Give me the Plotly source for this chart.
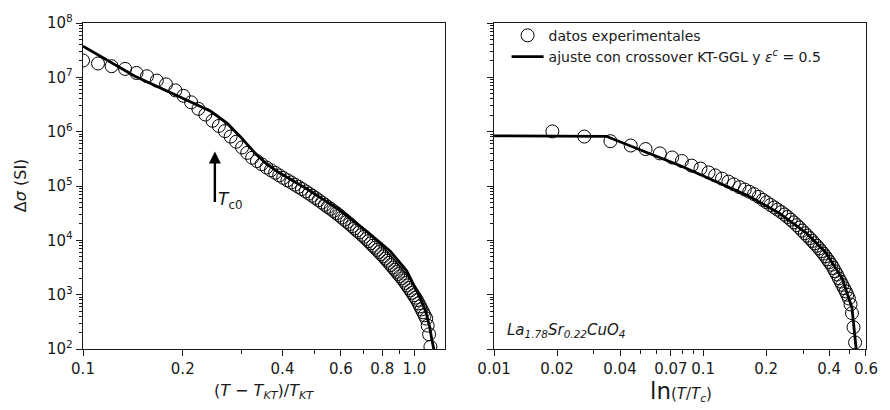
import numpy as np
import plotly.graph_objects as go

# ---------------- data ----------------
# Left panel: x = (T - T_KT)/T_KT ; y = log10(Δσ / SI)
left_x = [0.100, 0.111, 0.122, 0.134, 0.145, 0.156, 0.167, 0.178, 0.190, 0.201,
          0.212, 0.223, 0.234, 0.246, 0.257, 0.268, 0.279, 0.290, 0.302, 0.313,
          0.324, 0.335, 0.346, 0.358, 0.369, 0.380, 0.391, 0.402, 0.414, 0.425,
          0.436, 0.447, 0.458, 0.470, 0.481, 0.492, 0.503, 0.514, 0.526, 0.537,
          0.548, 0.559, 0.570, 0.582, 0.593, 0.604, 0.615, 0.626, 0.638, 0.649,
          0.660, 0.671, 0.682, 0.694, 0.705, 0.716, 0.727, 0.738, 0.750, 0.761,
          0.772, 0.783, 0.794, 0.806, 0.817, 0.828, 0.839, 0.850, 0.862, 0.873,
          0.884, 0.895, 0.906, 0.918, 0.929, 0.940, 0.951, 0.962, 0.974, 0.985,
          0.996, 1.007, 1.018, 1.030, 1.041, 1.052, 1.063, 1.074, 1.086, 1.097,
          1.108, 1.118]
left_log_dsigma = [7.31, 7.255, 7.205, 7.155, 7.08, 7.02, 6.94, 6.87, 6.76, 6.66,
                   6.54, 6.42, 6.315, 6.20, 6.105, 6.01, 5.91, 5.815, 5.71, 5.61,
                   5.52, 5.46, 5.40, 5.34, 5.29, 5.245, 5.195, 5.15, 5.105, 5.065,
                   5.025, 4.985, 4.945, 4.90, 4.86, 4.82, 4.78, 4.74, 4.695, 4.655,
                   4.615, 4.58, 4.54, 4.50, 4.46, 4.42, 4.38, 4.34, 4.30, 4.26,
                   4.22, 4.18, 4.145, 4.10, 4.065, 4.025, 3.985, 3.945, 3.90, 3.865,
                   3.825, 3.785, 3.745, 3.705, 3.665, 3.625, 3.585, 3.545, 3.50, 3.46,
                   3.42, 3.38, 3.34, 3.30, 3.26, 3.215, 3.17, 3.125, 3.08, 3.035,
                   2.99, 2.945, 2.90, 2.84, 2.785, 2.73, 2.675, 2.62, 2.56, 2.43,
                   2.27, 2.04]

left_fit_x = [0.100, 0.143, 0.243, 0.272, 0.301, 0.317, 0.333, 0.358, 0.388, 0.477,
              0.586, 0.720, 0.846, 0.948, 1.039, 1.081, 1.113, 1.130, 1.144, 1.150]
left_fit_log = [7.575, 7.023, 6.375, 6.157, 5.883, 5.725, 5.582, 5.405, 5.258, 4.934,
                4.583, 4.160, 3.800, 3.440, 2.954, 2.70, 2.40, 2.16, 2.01, 1.80]

# Right panel: x = ln(T/Tc) ; y = log10(Δσ / SI)
right_x = [0.019, 0.027, 0.036, 0.045, 0.053, 0.062, 0.071, 0.079, 0.088, 0.097,
           0.106, 0.114, 0.123, 0.132, 0.140, 0.149, 0.158, 0.166, 0.175, 0.184,
           0.193, 0.201, 0.210, 0.219, 0.227, 0.236, 0.245, 0.253, 0.262, 0.271,
           0.280, 0.288, 0.297, 0.306, 0.314, 0.323, 0.332, 0.340, 0.349, 0.358,
           0.367, 0.375, 0.384, 0.393, 0.401, 0.410, 0.419, 0.427, 0.436, 0.445,
           0.454, 0.462, 0.471, 0.480, 0.488, 0.497, 0.506, 0.514, 0.523, 0.532]
right_log_dsigma = [6.005, 5.91, 5.825, 5.745, 5.68, 5.60, 5.525, 5.46, 5.375, 5.32,
                    5.25, 5.195, 5.135, 5.08, 5.03, 4.98, 4.935, 4.895, 4.85, 4.80,
                    4.745, 4.70, 4.65, 4.605, 4.565, 4.52, 4.475, 4.43, 4.38, 4.33,
                    4.28, 4.235, 4.18, 4.13, 4.085, 4.04, 3.99, 3.945, 3.90, 3.85,
                    3.80, 3.755, 3.705, 3.65, 3.60, 3.55, 3.49, 3.43, 3.37, 3.30,
                    3.24, 3.18, 3.12, 3.06, 3.00, 2.93, 2.82, 2.66, 2.40, 2.12]

right_fit_x = [0.010, 0.0344, 0.0541, 0.0778, 0.112, 0.161, 0.231, 0.309, 0.384,
               0.461, 0.514, 0.5335, 0.538, 0.541]
right_fit_log = [5.924, 5.915, 5.613, 5.372, 5.102, 4.832, 4.502, 4.142, 3.782,
                 3.302, 2.762, 2.22, 2.01, 1.80]

# tick labels
y_tickvals = [1e2, 1e3, 1e4, 1e5, 1e6, 1e7, 1e8]
y_ticktext = ["10<sup>2</sup>", "10<sup>3</sup>", "10<sup>4</sup>", "10<sup>5</sup>",
              "10<sup>6</sup>", "10<sup>7</sup>", "10<sup>8</sup>"]
left_xticks = [0.1, 0.2, 0.4, 0.6, 0.8, 1.0]
left_xticktext = ["0.1", "0.2", "0.4", "0.6", "0.8", "1.0"]
left_xminor = [0.3, 0.5, 0.7, 0.9]
right_xticks = [0.01, 0.02, 0.04, 0.07, 0.1, 0.2, 0.4, 0.6]
right_xticktext = ["0.01", "0.02", "0.04", "0.07", "0.1", "0.2", "0.4", "0.6"]
right_xminor = [0.03, 0.05, 0.06, 0.08, 0.09, 0.3, 0.5]
y_minor = [m * 10.0 ** e for e in range(2, 8) for m in range(2, 10)]

# ---------------- figure ----------------
FONT = "DejaVu Sans"
INK = "#1a1a1a"

ldy = 10 ** np.array(left_log_dsigma)
lfy = 10 ** np.array(left_fit_log)
rdy = 10 ** np.array(right_log_dsigma)
rfy = 10 ** np.array(right_fit_log)

marker = dict(symbol="circle", size=13, color="rgba(0,0,0,0)",
              line=dict(color="black", width=1))
fitline = dict(color="black", width=2.8)

fig = go.Figure()
fig.add_trace(go.Scatter(x=left_x, y=ldy, mode="markers", marker=marker,
                         name="datos experimentales", xaxis="x", yaxis="y"))
fig.add_trace(go.Scatter(x=left_fit_x, y=lfy, mode="lines", line=fitline,
                         name="ajuste con crossover KT-GGL y <i>ε</i><sup><i>c</i></sup> = 0.5",
                         xaxis="x", yaxis="y"))
fig.add_trace(go.Scatter(x=right_x, y=rdy, mode="markers", marker=marker,
                         showlegend=False, xaxis="x2", yaxis="y2"))
fig.add_trace(go.Scatter(x=right_fit_x, y=rfy, mode="lines", line=fitline,
                         showlegend=False, xaxis="x2", yaxis="y2"))

axis_common = dict(type="log", showline=True, linewidth=1.4, linecolor=INK,
                   mirror=True, showgrid=False, zeroline=False,
                   ticks="outside", ticklen=6, tickwidth=1.1, tickcolor=INK,
                   tickfont=dict(family=FONT, size=15, color=INK))

fig.update_layout(
    width=890, height=410,
    margin=dict(l=83, r=16, t=16, b=61),
    paper_bgcolor="white", plot_bgcolor="white",
    font=dict(family=FONT, color=INK),
    xaxis=dict(axis_common, domain=[0, 0.4627], range=[-1, 0.0934],
               tickmode="array", tickvals=left_xticks, ticktext=left_xticktext,
               minor=dict(tickmode="array", tickvals=left_xminor, ticks="outside",
                          ticklen=3.5, tickwidth=1, tickcolor=INK),
               anchor="y"),
    yaxis=dict(axis_common, domain=[0, 1], range=[2, 8],
               tickmode="array", tickvals=y_tickvals, ticktext=y_ticktext,
               minor=dict(tickmode="array", tickvals=y_minor, ticks="outside",
                          ticklen=3, tickwidth=0.8, tickcolor=INK),
               anchor="x"),
    xaxis2=dict(axis_common, domain=[0.525, 1], range=[-2, np.log10(0.6)],
                tickmode="array", tickvals=right_xticks, ticktext=right_xticktext,
                minor=dict(tickmode="array", tickvals=right_xminor, ticks="outside",
                           ticklen=3.5, tickwidth=1, tickcolor=INK),
                anchor="y2"),
    yaxis2=dict(axis_common, domain=[0, 1], range=[2, 8], showticklabels=False,
                tickmode="array", tickvals=y_tickvals,
                minor=dict(tickmode="array", tickvals=y_minor, ticks="outside",
                           ticklen=3, tickwidth=0.8, tickcolor=INK),
                anchor="x2"),
    legend=dict(x=0.541, y=1.01, xanchor="left", yanchor="top",
                bgcolor="rgba(0,0,0,0)", font=dict(family=FONT, size=14, color=INK),
                itemwidth=32, tracegroupgap=0),
    showlegend=True,
)

ann = []
# axis titles
ann.append(dict(text="(<i>T</i> − <i>T</i><sub><i>KT</i></sub>)/<i>T</i><sub><i>KT</i></sub>",
                xref="paper", yref="paper", x=0.2313, y=-0.13, showarrow=False,
                xanchor="center", yanchor="middle", font=dict(size=16)))
ann.append(dict(text="<span style='font-size:23px'>ln</span>(<i>T</i>/<i>T</i><sub><i>c</i></sub>)",
                xref="paper", yref="paper", x=0.7636, y=-0.13, showarrow=False,
                xanchor="center", yanchor="middle", font=dict(size=15)))
ann.append(dict(text="Δ<i>σ</i> (SI)", xref="paper", yref="paper", x=-0.0796, y=0.5015,
                textangle=-90, showarrow=False, xanchor="center", yanchor="middle",
                font=dict(size=16)))
# sample label
ann.append(dict(text="<i>La</i><sub><i>1.78</i></sub><i>Sr</i><sub><i>0.22</i></sub><i>CuO</i><sub><i>4</i></sub>",
                xref="paper", yref="paper", x=0.5385, y=0.057, showarrow=False,
                xanchor="left", yanchor="middle", font=dict(size=15)))
# Tc0 arrow and label (annotation positions on log axes are given in log10)
tc0_x = 0.25
ann.append(dict(text="", x=np.log10(tc0_x), y=5.636, ax=np.log10(tc0_x), ay=4.68,
                xref="x", yref="y", axref="x", ayref="y", showarrow=True,
                arrowhead=2, arrowsize=1, arrowwidth=2.4, arrowcolor="black", standoff=0))
ann.append(dict(text="<i>T</i><sub>c0</sub>", x=np.log10(0.252), y=4.73,
                xref="x", yref="y", showarrow=False, xanchor="left", yanchor="middle",
                font=dict(size=17)))
fig.update_layout(annotations=ann)

fig.write_html("out.html")
